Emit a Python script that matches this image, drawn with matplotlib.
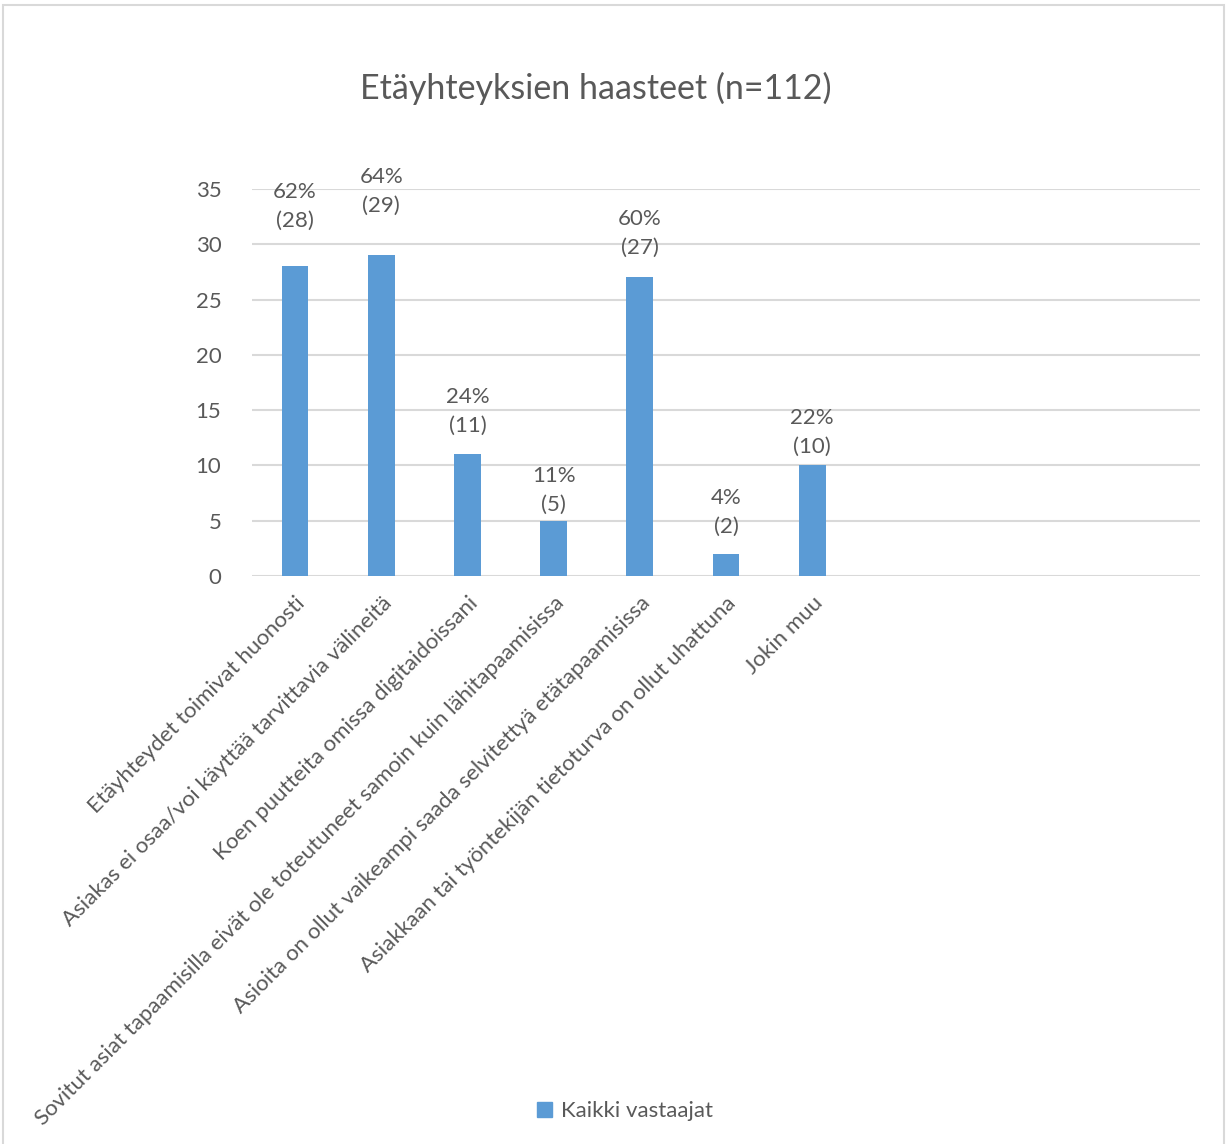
import matplotlib
matplotlib.use('Agg')
import matplotlib.pyplot as plt
from matplotlib.patches import Rectangle, Patch

categories = [
    'Etäyhteydet toimivat huonosti',
    'Asiakas ei osaa/voi käyttää tarvittavia välineitä',
    'Koen puutteita omissa digitaidoissani',
    'Sovitut asiat tapaamisilla eivät ole toteutuneet samoin kuin lähitapaamisissa',
    'Asioita on ollut vaikeampi saada selvitettyä etätapaamisissa',
    'Asiakkaan tai työntekijän tietoturva on ollut uhattuna',
    'Jokin muu',
    '', '', '', '',
]
counts = [28, 29, 11, 5, 27, 2, 10]
percents = [62, 64, 24, 11, 60, 4, 22]
yticks = [0, 5, 10, 15, 20, 25, 30, 35]

# label centre lift above bar top (points), as placed in the original
label_lift = [43, 46, 31, 22, 32, 30, 24]

txt = '#595959'
bar_col = '#5B9BD5'
grid_col = '#D9D9D9'
plt.rcParams['font.family'] = ['Lato', 'DejaVu Sans']
fs = 16

fig = plt.figure(figsize=(12.27, 11.44), dpi=100)
ax = fig.add_axes([252/1227, 1-576/1144, (1200-252)/1227, (576-189)/1144])

x = list(range(len(categories)))
ax.bar(x[:len(counts)], counts, width=0.31, color=bar_col, zorder=3)
ax.set_xlim(-0.5, len(categories)-0.5)
ax.set_ylim(0, 35)
ax.set_yticks(yticks)
ax.yaxis.grid(True, color=grid_col, linewidth=1.5, zorder=0)
ax.set_axisbelow(True)
for s in ax.spines.values():
    s.set_visible(False)
ax.tick_params(axis='y', length=0, pad=22, labelsize=fs, labelcolor=txt)
ax.tick_params(axis='x', length=0, pad=12)
ax.set_xticks(x)
ax.set_xticklabels(categories, rotation=45, ha='right', rotation_mode='anchor',
                   fontsize=fs, color=txt)

for i, (c, p) in enumerate(zip(counts, percents)):
    ax.annotate(f'{p}%\n({c})', (i, c), xytext=(0, label_lift[i]), textcoords='offset points',
                ha='center', va='center', fontsize=fs, color=txt, linespacing=1.55)

fig.text(596/1227, 1-88/1144, 'Etäyhteyksien haasteet (n=112)', ha='center', va='center',
         fontsize=24.5, color=txt)

fig.legend(handles=[Patch(color=bar_col, label='Kaikki vastaajat')], loc='center',
           bbox_to_anchor=(625/1227, 1-1111/1144), frameon=False, fontsize=fs,
           labelcolor=txt, handlelength=0.65, handleheight=0.65, handletextpad=0.4)

fig.patches.append(Rectangle((3/1227, -0.01), 1221/1227, 1.01-4.5/1144, transform=fig.transFigure,
                             fill=False, edgecolor=grid_col, linewidth=1.5))

fig.savefig('out.png', dpi=100)
